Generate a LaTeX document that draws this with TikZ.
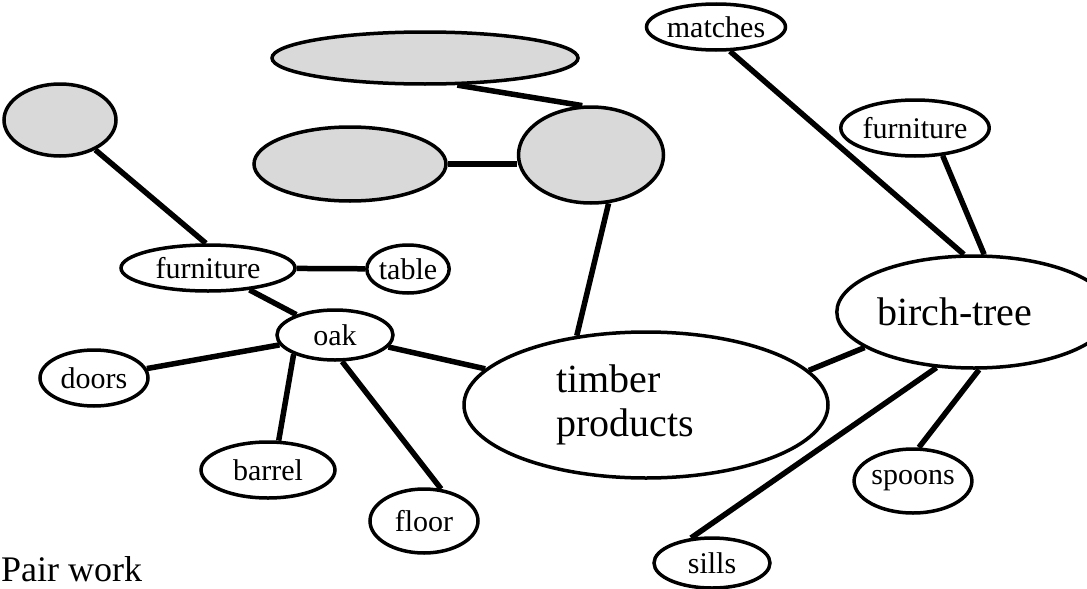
\documentclass[tikz,border=0pt]{standalone}
\usepackage{fontspec}
\setmainfont{Liberation Serif}
\usetikzlibrary{shapes.geometric}
\newcommand{\smallSize}[0]{\fontsize{30}{34}\selectfont}
\newcommand{\largeSize}[0]{\fontsize{40}{44}\selectfont}

\begin{document}
\begin{tikzpicture}[x=1pt, y=-1pt]
  \tikzset{bubble/.style={ellipse, draw, line width=3.5pt, inner sep=0pt, fill=white, font=\smallSize},
           blank/.style={bubble, fill=black!15},
           dims/.style 2 args={minimum width=#1pt, minimum height=#2pt},
           spoke/.style={line width=5.5pt}}
  \useasboundingbox (0,0) rectangle (1087,589);
  % empty bubbles
  \node[blank, dims={306}{52}] (top) at (425,58) {};
  \node[blank, dims={192}{74}] (midleft) at (350,164) {};
  \node[blank, dims={145}{96}] (midright) at (591,155) {};
  \node[blank, dims={112}{72}] (corner) at (60,120) {};
  % oak side
  \node[bubble, dims={174}{46}] (furnitureL) at (208,268) {furniture};
  \node[bubble, dims={78}{48}] (table) at (408,269) {table};
  \node[bubble, dims={116}{50}] (oak) at (335,335) {oak};
  \node[bubble, dims={108}{56}] (doors) at (94,378) {doors};
  \node[bubble, dims={134}{56}] (barrel) at (268,470) {barrel};
  \node[bubble, dims={108}{64}] (floor) at (424,521) {floor};
  % centre
  \node[bubble, dims={364}{146}, font=\largeSize, text width=180pt, align=left] (timber) at (646,405) {timber\\products};
  % birch side
  \node[bubble, dims={224}{112}, font=\largeSize, text width=194pt, align=left] (birch) at (974,312) {birch-tree};
  \node[bubble, dims={104}{46}] (matches) at (716,27) {matches};
  \node[bubble, dims={110}{56}] (furnitureR) at (915,128) {furniture};
  \node[bubble, dims={112}{64}] (spoons) at (913,481) {spoons};
  \node[bubble, dims={116}{50}] (sills) at (712,563) {sills};
  \node[anchor=base west, inner sep=0pt, font=\fontsize{36}{40}\selectfont] (pair) at (1,581) {Pair work};
  % links
  \draw[spoke] (top.-40) -- (midright.100);
  \draw[spoke] (midleft.east) -- (midright.west |- midleft.east);
  \draw[spoke] (midright.-70) -- (timber.135);
  \draw[spoke] (corner) -- (furnitureL.95);
  \draw[spoke] (furnitureL) -- (table);
  \draw[spoke] (furnitureL) -- (oak);
  \draw[spoke] (oak) -- (doors);
  \draw[spoke] (oak.-155) -- (barrel.70);
  \draw[spoke] (oak.-75) -- (floor.62);
  \draw[spoke] (oak) -- (timber);
  \draw[spoke] (timber.12) -- (birch.198);
  \draw[spoke] (matches.-60) -- (birch.100);
  \draw[spoke] (furnitureR.-45) -- (birch.80);
  \draw[spoke] (birch.-85) -- (spoons.80);
  \draw[spoke] (birch.-124) -- (sills.130);
\end{tikzpicture}
\end{document}
